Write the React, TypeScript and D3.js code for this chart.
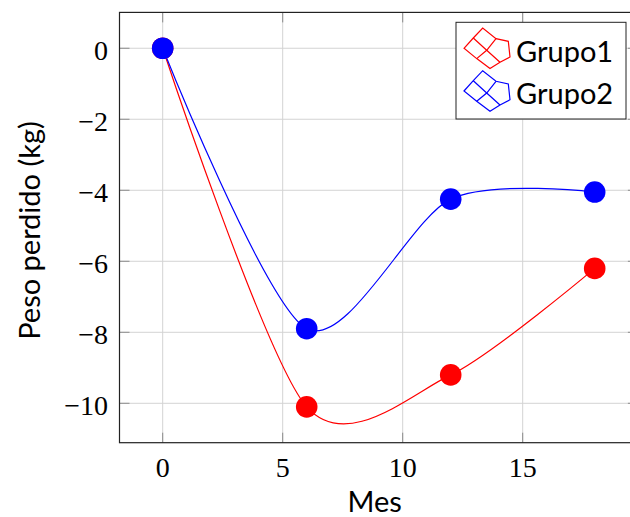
import React from "react";
import * as d3 from "d3";

const months = [0, 6, 12, 18];
const grupo1 = [0, -10.1, -9.2, -6.2];
const grupo2 = [0, -7.9, -4.25, -4.05];
const xTicks = [0, 5, 10, 15];
const yTicks = [0, -2, -4, -6, -8, -10];
const seriesNames = ["Grupo1", "Grupo2"];
const seriesColors = ["#ff0000", "#0000ff"];

const W = 630;
const H = 517;
const X0 = 119.5, X1 = 637.9, Y0 = 12.4, Y1 = 442.7;

// TikZ-like "smooth" curve
function tikzSmooth(context: any) {
  const k = 0.14;
  let pts: [number, number][] = [];
  return {
    areaStart() {},
    areaEnd() {},
    lineStart() { pts = []; },
    point(x: number, y: number) { pts.push([x, y]); },
    lineEnd() {
      const n = pts.length;
      if (!n) return;
      context.moveTo(pts[0][0], pts[0][1]);
      for (let i = 1; i < n; i++) {
        const p0 = pts[i - 1], p1 = pts[i];
        let c1: [number, number], c2: [number, number];
        if (i - 1 === 0) c1 = p0;
        else {
          const a = pts[i - 2];
          c1 = [p0[0] + k * (p1[0] - a[0]), p0[1] + k * (p1[1] - a[1])];
        }
        if (i === n - 1) c2 = p1;
        else {
          const b = pts[i + 1];
          c2 = [p1[0] - k * (b[0] - p0[0]), p1[1] - k * (b[1] - p0[1])];
        }
        context.bezierCurveTo(c1[0], c1[1], c2[0], c2[1], p1[0], p1[1]);
      }
    },
  };
}

const fmt = (v: number) => (v < 0 ? "\u2212" + Math.abs(v) : String(v));

export default function App() {
  const x = d3.scaleLinear().domain([-1.8, 19.8]).range([X0, X1]);
  const y = d3.scaleLinear().domain([-11.11, 1.01]).range([Y1, Y0]);
  const line = d3
    .line<[number, number]>()
    .x((d) => x(d[0]))
    .y((d) => y(d[1]))
    .curve(tikzSmooth as any);
  const series = [grupo1, grupo2];
  const serif = "'Liberation Serif', 'DejaVu Serif', serif";
  const sans = "Lato, 'Noto Sans', sans-serif";

  const iconOutline: [number, number][] = [
    [0, 0], [9.3, -10.3], [18.7, -20.3], [32, -9.7], [44.3, -7], [46, 8.7], [36, 14], [26, 20.3], [12.7, 10.3],
  ];
  const mid1: [number, number][] = [[9.3, -10.3], [22.7, 2], [36, 14]];
  const mid2: [number, number][] = [[12.7, 10.3], [22.7, 2], [32, -9.7]];
  const poly = d3.line();

  return (
    <svg width={W} height={H} style={{ position: "absolute", left: 0, top: 0, background: "#fff" }}>
      <defs>
        <clipPath id="plotclip">
          <rect x={X0} y={Y0} width={X1 - X0} height={Y1 - Y0} />
        </clipPath>
      </defs>
      <rect x={0} y={0} width={W} height={H} fill="#fff" />
      {/* grid */}
      {xTicks.map((t) => (
        <line key={"gx" + t} x1={x(t)} x2={x(t)} y1={Y0} y2={Y1} stroke="#d3d3d3" strokeWidth={1} />
      ))}
      {yTicks.map((t) => (
        <line key={"gy" + t} x1={X0} x2={X1} y1={y(t)} y2={y(t)} stroke="#d3d3d3" strokeWidth={1} />
      ))}
      {/* ticks */}
      {xTicks.map((t) => (
        <g key={"tx" + t} stroke="#8c8c8c" strokeWidth={1}>
          <line x1={x(t)} x2={x(t)} y1={Y1} y2={Y1 - 10} />
          <line x1={x(t)} x2={x(t)} y1={Y0} y2={Y0 + 10} />
        </g>
      ))}
      {yTicks.map((t) => (
        <g key={"ty" + t} stroke="#8c8c8c" strokeWidth={1}>
          <line x1={X0} x2={X0 + 10} y1={y(t)} y2={y(t)} />
          <line x1={X1} x2={X1 - 10} y1={y(t)} y2={y(t)} />
        </g>
      ))}
      {/* curves */}
      <g clipPath="url(#plotclip)">
        {series.map((s, i) => (
          <path
            key={"l" + i}
            d={line(months.map((m, j) => [m, s[j]] as [number, number])) || ""}
            fill="none"
            stroke={seriesColors[i]}
            strokeWidth={1.2}
          />
        ))}
        {series.map((s, i) =>
          s.map((v, j) => (
            <circle key={"c" + i + "-" + j} cx={x(months[j])} cy={y(v)} r={10.8} fill={seriesColors[i]} />
          ))
        )}
      </g>
      {/* frame */}
      <rect x={X0} y={Y0} width={X1 - X0} height={Y1 - Y0} fill="none" stroke="#222" strokeWidth={1.2} />
      {/* tick labels */}
      {xTicks.map((t) => (
        <text key={"xl" + t} x={x(t)} y={477} textAnchor="middle" fontFamily={serif} fontSize={28} fill="#000">
          {fmt(t)}
        </text>
      ))}
      {yTicks.map((t) => (
        <text key={"yl" + t} x={108} y={y(t) + 11.5} textAnchor="end" fontFamily={serif} fontSize={28} fill="#000">
          {fmt(t)}
        </text>
      ))}
      {/* axis labels */}
      <text x={(X0 + 630) / 2} y={512} textAnchor="middle" fontFamily={sans} fontSize={29} fill="#000">
        Mes
      </text>
      <text
        transform={`translate(40, ${(Y0 + Y1) / 2 + 3}) rotate(-90)`}
        textAnchor="middle"
        fontFamily={sans}
        fontSize={29}
        fill="#000"
      >
        Peso perdido (kg)
      </text>
      {/* legend */}
      <rect x={456} y={22.3} width={170} height={96.7} fill="#fff" stroke="#222" strokeWidth={1} />
      {seriesNames.map((name, i) => {
        const oy = 48.3 + i * 42.7;
        return (
          <g key={"lg" + i}>
            <g transform={`translate(464, ${oy})`} fill="none" stroke={seriesColors[i]} strokeWidth={1.2}>
              <path d={(poly(iconOutline) || "") + "Z"} />
              <path d={poly(mid1) || ""} />
              <path d={poly(mid2) || ""} />
            </g>
            <text x={516} y={61.7 + i * 42.7} fontFamily={sans} fontSize={29} fill="#000">
              {name}
            </text>
          </g>
        );
      })}
    </svg>
  );
}
